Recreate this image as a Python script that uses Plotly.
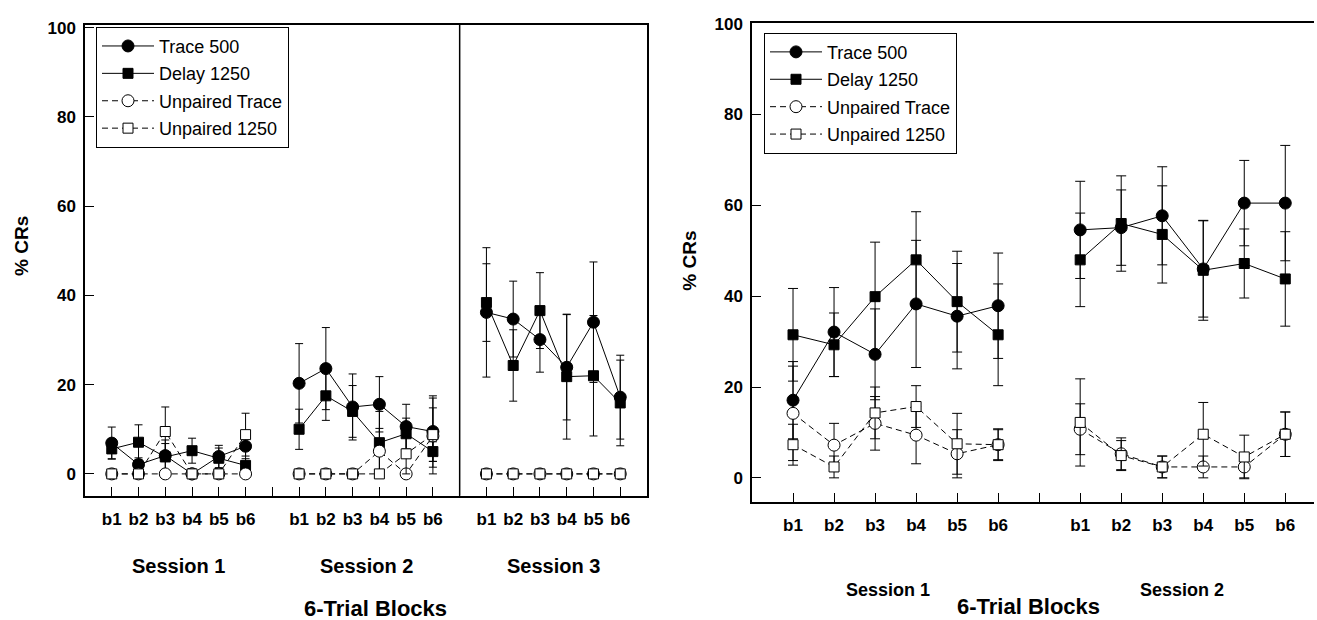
import plotly.graph_objects as go

W, H = 1317, 620

# ---------------- data ----------------
blocks = ["b1", "b2", "b3", "b4", "b5", "b6"]
series_names = ["Trace 500", "Delay 1250", "Unpaired Trace", "Unpaired 1250"]

# Left panel: three sessions
left_sessions = ["Session 1", "Session 2", "Session 3"]
left_trace500 = [[6.9, 2.1, 4.1, 0.0, 3.9, 6.2],
                 [20.3, 23.6, 15.0, 15.6, 10.6, 9.5],
                 [36.2, 34.7, 30.1, 23.9, 34.0, 17.2]]
left_trace500_err = [[3.6, 1.5, 3.5, 0.0, 2.5, 3.5],
                     [8.9, 9.2, 7.4, 6.2, 5.0, 8.0],
                     [14.5, 8.5, 7.3, 11.8, 13.5, 9.4]]
left_delay1250 = [[5.6, 7.1, 3.8, 5.2, 3.5, 1.9],
                  [10.0, 17.5, 14.0, 7.0, 9.0, 5.0],
                  [38.4, 24.3, 36.6, 21.8, 22.0, 15.9]]
left_delay1250_err = [[2.2, 3.9, 3.0, 2.8, 2.3, 1.5],
                      [4.5, 5.5, 5.8, 7.0, 3.5, 2.2],
                      [8.7, 8.0, 8.5, 14.0, 13.5, 9.6]]
left_unp_trace = [[0, 0, 0, 0, 0, 0],
                  [0, 0, 0, 5.1, 0, 8.5],
                  [0, 0, 0, 0, 0, 0]]
left_unp_trace_err = [[0, 0, 0, 0, 0, 0],
                      [0, 0, 0, 5.1, 0, 8.5],
                      [0, 0, 0, 0, 0, 0]]
left_unp_1250 = [[0, 0, 9.5, 0, 0, 8.8],
                 [0, 0, 0, 0, 4.5, 8.8],
                 [0, 0, 0, 0, 0, 0]]
left_unp_1250_err = [[0, 0, 5.5, 0, 0, 4.8],
                     [0, 0, 0, 0, 4.5, 6.0],
                     [0, 0, 0, 0, 0, 0]]

# Right panel: two sessions
right_sessions = ["Session 1", "Session 2"]
right_trace500 = [[17.1, 32.1, 27.2, 38.3, 35.6, 37.9],
                  [54.6, 55.1, 57.7, 46.0, 60.5, 60.5]]
right_trace500_err = [[8.5, 9.8, 10.0, 14.0, 11.6, 11.6],
                      [10.7, 8.3, 10.8, 10.6, 9.4, 12.7]]
right_delay1250 = [[31.5, 29.3, 39.9, 48.0, 38.8, 31.5],
                   [48.0, 56.0, 53.6, 45.7, 47.2, 43.8]]
right_delay1250_err = [[10.2, 7.0, 12.0, 10.6, 11.1, 11.2],
                       [10.3, 10.5, 10.7, 11.0, 7.6, 10.4]]
right_unp_trace = [[14.2, 7.2, 12.0, 9.4, 5.3, 7.3],
                   [10.7, 5.3, 2.4, 2.4, 2.4, 9.6]]
right_unp_trace_err = [[10.4, 4.8, 5.9, 6.3, 5.3, 3.3],
                       [5.6, 3.5, 2.4, 2.4, 2.4, 4.9]]
right_unp_1250 = [[7.3, 2.4, 14.3, 15.7, 7.5, 7.3],
                  [12.2, 4.9, 2.4, 9.6, 4.6, 9.6]]
right_unp_1250_err = [[4.5, 2.4, 5.7, 4.6, 6.7, 3.5],
                      [9.6, 3.3, 2.4, 7.0, 4.8, 4.9]]

y_ticks = [0, 20, 40, 60, 80, 100]

# ---------------- helpers ----------------
FONT = "Liberation Sans, Arial, sans-serif"


def flatten(sessions_vals):
    """Join sessions with a gap (None) between them; x positions 1.. per block."""
    xs, ys = [], []
    for s, vals in enumerate(sessions_vals):
        for i, v in enumerate(vals):
            xs.append(1 + s * (len(blocks) + 1) + i)
            ys.append(v)
        if s < len(sessions_vals) - 1:
            xs.append(1 + s * (len(blocks) + 1) + len(blocks))
            ys.append(None)
    return xs, ys


styles = {
    "Trace 500": dict(symbol="circle", size=12, color="black", dash="solid"),
    "Delay 1250": dict(symbol="square", size=10, color="black", dash="solid"),
    "Unpaired Trace": dict(symbol="circle", size=12, color="white", dash="6px,4px"),
    "Unpaired 1250": dict(symbol="square", size=10, color="white", dash="6px,4px"),
}

fig = go.Figure()


def add_panel(data, xa, ya, legend, cap):
    for name, (vals, errs) in zip(series_names, data):
        st = styles[name]
        xs, ys = flatten(vals)
        _, es = flatten(errs)
        es = [0 if e is None else e for e in es]
        fig.add_trace(go.Scatter(
            x=xs, y=ys, mode="lines+markers", name=name,
            xaxis=xa, yaxis=ya, legend=legend, legendgroup=legend + name,
            connectgaps=False,
            line=dict(color="black", width=1, dash=st["dash"]),
            marker=dict(symbol=st["symbol"], size=st["size"], color=st["color"],
                        line=dict(color="black", width=1)),
            error_y=dict(type="data", array=es, visible=True, color="black",
                         thickness=1, width=cap),
        ))


add_panel([(left_trace500, left_trace500_err), (left_delay1250, left_delay1250_err),
           (left_unp_trace, left_unp_trace_err), (left_unp_1250, left_unp_1250_err)],
          "x", "y", "legend", 4)
add_panel([(right_trace500, right_trace500_err), (right_delay1250, right_delay1250_err),
           (right_unp_trace, right_unp_trace_err), (right_unp_1250, right_unp_1250_err)],
          "x2", "y2", "legend2", 5)


def px_x(p):
    return p / W


def px_y(p):
    return 1 - p / H


# tick values / labels
n_left = len(left_sessions) * (len(blocks) + 1) - 1
left_tickvals = list(range(1, n_left + 1))
left_ticktext = []
for s in range(len(left_sessions)):
    left_ticktext += blocks
    if s < len(left_sessions) - 1:
        left_ticktext.append("")
n_right = len(right_sessions) * (len(blocks) + 1) - 1
right_tickvals = list(range(1, n_right + 1))
right_ticktext = []
for s in range(len(right_sessions)):
    right_ticktext += blocks
    if s < len(right_sessions) - 1:
        right_ticktext.append("")

axis_common = dict(showgrid=False, zeroline=False, showline=True, linecolor="black",
                   linewidth=1.5, ticks="inside", ticklen=9, tickcolor="black",
                   tickwidth=1)
tick_font = dict(family=FONT, size=17, color="black", weight="bold")

fig.update_layout(
    width=W, height=H, margin=dict(l=0, r=0, t=0, b=0),
    paper_bgcolor="white", plot_bgcolor="white",
    xaxis=dict(domain=[px_x(85), px_x(647)], range=[0, n_left + 1], anchor="y",
               tickvals=left_tickvals, ticktext=left_ticktext, mirror=True,
               tickfont=tick_font, ticklabelstandoff=7, **axis_common),
    yaxis=dict(domain=[px_y(494), px_y(17)], range=[-4.87, 100.66], anchor="x",
               tickvals=y_ticks, mirror=True,
               tickfont=tick_font, ticklabelstandoff=4, **axis_common),
    xaxis2=dict(domain=[px_x(752), px_x(1314)], range=[0, 13.7], anchor="y2",
                tickvals=right_tickvals, ticktext=right_ticktext, mirror=True,
                tickfont=tick_font, ticklabelstandoff=7, **axis_common),
    yaxis2=dict(domain=[px_y(500), px_y(15)], range=[-5.22, 100.2], anchor="x2",
                tickvals=y_ticks,
                tickfont=tick_font, ticklabelstandoff=4, **axis_common),
    legend=dict(x=px_x(96), y=px_y(19), xanchor="left", yanchor="top",
                bgcolor="white", bordercolor="black", borderwidth=1,
                font=dict(family=FONT, size=18, color="black"),
                itemwidth=52, tracegroupgap=1, traceorder="grouped"),
    legend2=dict(x=px_x(764), y=px_y(25), xanchor="left", yanchor="top",
                 bgcolor="white", bordercolor="black", borderwidth=1,
                 font=dict(family=FONT, size=18, color="black"),
                 itemwidth=52, tracegroupgap=1, traceorder="grouped"),
    showlegend=True,
)

# divider between session 2 and session 3 in left panel
fig.add_shape(type="line", xref="x", yref="y domain", x0=2 * (len(blocks) + 1),
              x1=2 * (len(blocks) + 1), y0=0, y1=1,
              line=dict(color="black", width=1.5))


def ann(text, x, y, size, angle=0, bold=True):
    fig.add_annotation(text=text, x=px_x(x), y=px_y(y), xref="paper", yref="paper",
                       showarrow=False, textangle=angle,
                       font=dict(family=FONT, size=size, color="black",
                                 weight="bold" if bold else "normal"),
                       xanchor="center", yanchor="middle")


ann("% CRs", 22, 241, 19, angle=-90)
ann("% CRs", 690, 256, 19, angle=-90)
for s, name in enumerate(left_sessions):
    x0 = 85 + (1 + s * 7) * 562 / 21
    x1 = 85 + (6 + s * 7) * 562 / 21
    ann(name, (x0 + x1) / 2, 565, 20)
ann("6-Trial Blocks", 375, 608, 22)
ann(right_sessions[0], 888, 590, 18)
ann(right_sessions[1], 1182, 590, 18)
ann("6-Trial Blocks", 1028, 606, 22)

fig.write_html("out.html")
